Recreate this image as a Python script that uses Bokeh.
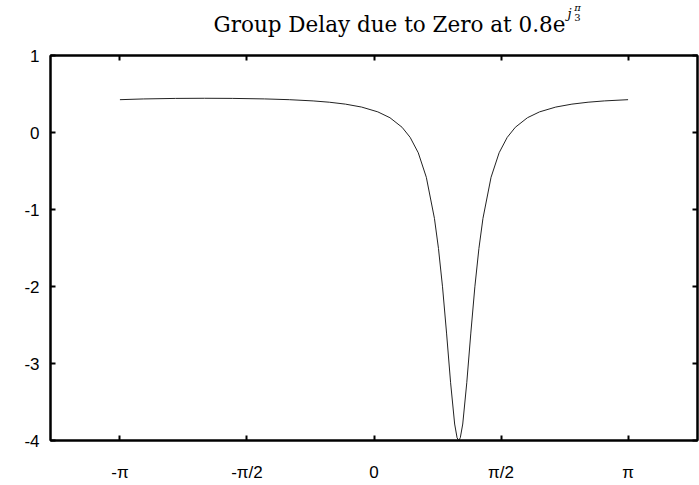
import numpy as np
from bokeh.plotting import figure
from bokeh.models import FixedTicker, LinearAxis, Label, BoxAnnotation
from bokeh.embed import file_html
from bokeh.resources import INLINE

# frequency (rad/sample) and group delay (samples)
omega = [-3.1416, -2.8528, -2.4528, -2.0944, -1.7528, -1.3528, -1.0472,
         -0.7528, -0.5528, -0.3528, -0.1528, 0.0472, 0.1972, 0.3472, 0.4472,
         0.5472, 0.6472, 0.7472, 0.7972, 0.8472, 0.8972, 0.9472, 0.9972,
         1.0272, 1.0472, 1.0672, 1.0972, 1.1472, 1.1972, 1.2472, 1.2972,
         1.3472, 1.4472, 1.5472, 1.6472, 1.7472, 1.8972, 2.0472, 2.2472,
         2.4472, 2.6472, 2.8472, 3.1416]
delay = [0.4262, 0.4357, 0.4426, 0.4444, 0.4428, 0.4362, 0.4262,
         0.4102, 0.3933, 0.3684, 0.3302, 0.2679, 0.1918, 0.0676, -0.0634,
         -0.263, -0.582, -1.115, -1.506, -2.004, -2.605, -3.250, -3.786,
         -3.964, -4.0, -3.964, -3.786, -3.250, -2.605, -2.004, -1.506,
         -1.115, -0.582, -0.263, -0.0634, 0.0676, 0.1918, 0.2679, 0.3302,
         0.3684, 0.3933, 0.4102, 0.4262]

x_ticks = [-np.pi, -np.pi / 2, 0.0, np.pi / 2, np.pi]
x_tick_labels = ["-π", "-π/2", "0", "π/2", "π"]
y_ticks = [-4, -3, -2, -1, 0, 1]
y_tick_labels = ["-4", "-3", "-2", "-1", "0", "1"]

title_main = "Group Delay due to Zero at 0.8e"
title_sup = "j"
title_frac = ("π", "3")

# axes box (data limits)
XMIN, XMAX, YMIN, YMAX = -4, 4, -4, 1

# pixel geometry of the box inside the canvas
BOX_L, BOX_R, BOX_T, BOX_B = 50, 697, 55, 440
FR_L, FR_R, FR_T, FR_B = 46, 699, 0, 442
sx = (BOX_R - BOX_L) / (XMAX - XMIN)
sy = (BOX_B - BOX_T) / (YMAX - YMIN)


def px_x(px):
    return XMIN + (px - BOX_L) / sx


def px_y(py):
    return YMAX + (BOX_T - py) / sy


p = figure(width=699, height=485, title=None,
           x_range=(px_x(FR_L), px_x(FR_R)),
           y_range=(px_y(FR_B), px_y(FR_T)),
           output_backend="svg", toolbar_location=None,
           min_border_left=FR_L, min_border_right=0, min_border_top=0,
           min_border_bottom=485 - FR_B)
p.background_fill_color = None
p.border_fill_color = None
p.outline_line_color = None
p.grid.visible = False

p.line(omega, delay, line_color="#222222", line_width=1)

p.add_layout(BoxAnnotation(left=XMIN, right=XMAX, bottom=YMIN, top=YMAX,
                           fill_color=None, fill_alpha=0,
                           line_color="black", line_alpha=1.0,
                           line_width=2))

# labelled axes at the frame edges (labels only)
lbl_font = "Liberation Sans"
xa = p.xaxis[0]
xa.ticker = FixedTicker(ticks=x_ticks)
xa.major_label_overrides = {t: l for t, l in zip(x_ticks, x_tick_labels)}
ya = p.yaxis[0]
ya.ticker = FixedTicker(ticks=y_ticks)
ya.major_label_overrides = {t: l for t, l in zip(y_ticks, y_tick_labels)}
for ax in (xa, ya):
    ax.major_tick_in = 0
    ax.major_tick_out = 0
    ax.major_tick_line_color = None
    ax.minor_tick_line_color = None
    ax.axis_line_color = None
    ax.major_label_text_font = lbl_font
    ax.major_label_text_font_size = "17px"
    ax.major_label_text_color = "black"
xa.major_label_standoff = 20
ya.major_label_standoff = 7


def tick_axis(ticks, loc, bounds, tin, tout):
    return LinearAxis(ticker=FixedTicker(ticks=ticks), fixed_location=loc,
                      bounds=bounds, major_tick_in=tin, major_tick_out=tout,
                      minor_tick_line_color=None,
                      major_label_overrides={t: "" for t in ticks},
                      major_label_text_font_size="1px",
                      major_label_standoff=0, axis_line_color="black",
                      axis_line_width=2, major_tick_line_color="black",
                      major_tick_line_width=2)


p.add_layout(tick_axis(y_ticks, XMIN, (YMIN, YMAX), 5, 0), "left")
p.add_layout(tick_axis(y_ticks, XMAX, (YMIN, YMAX), 0, 5), "left")
p.add_layout(tick_axis(x_ticks, YMIN, (XMIN, XMAX), 5, 0), "below")
p.add_layout(tick_axis(x_ticks, YMAX, (XMIN, XMAX), 5, 0), "above")

serif = "DejaVu Serif"
p.add_layout(Label(x=px_x(213), y=px_y(24), text=title_main,
                   text_align="left", text_baseline="alphabetic",
                   text_font=serif, text_font_size="21.5px",
                   text_color="black"))
p.add_layout(Label(x=px_x(567), y=px_y(13), text=title_sup,
                   text_align="left", text_baseline="alphabetic",
                   text_font=serif, text_font_style="italic",
                   text_font_size="13px", text_color="black"))
p.add_layout(Label(x=px_x(577), y=px_y(7), text=title_frac[0],
                   text_align="center", text_baseline="alphabetic",
                   text_font=serif, text_font_style="italic",
                   text_font_size="10px", text_color="black"))
p.add_layout(Label(x=px_x(577), y=px_y(17), text=title_frac[1],
                   text_align="center", text_baseline="alphabetic",
                   text_font=serif, text_font_size="10px",
                   text_color="black"))

open("out.html", "w").write(file_html(p, INLINE))
